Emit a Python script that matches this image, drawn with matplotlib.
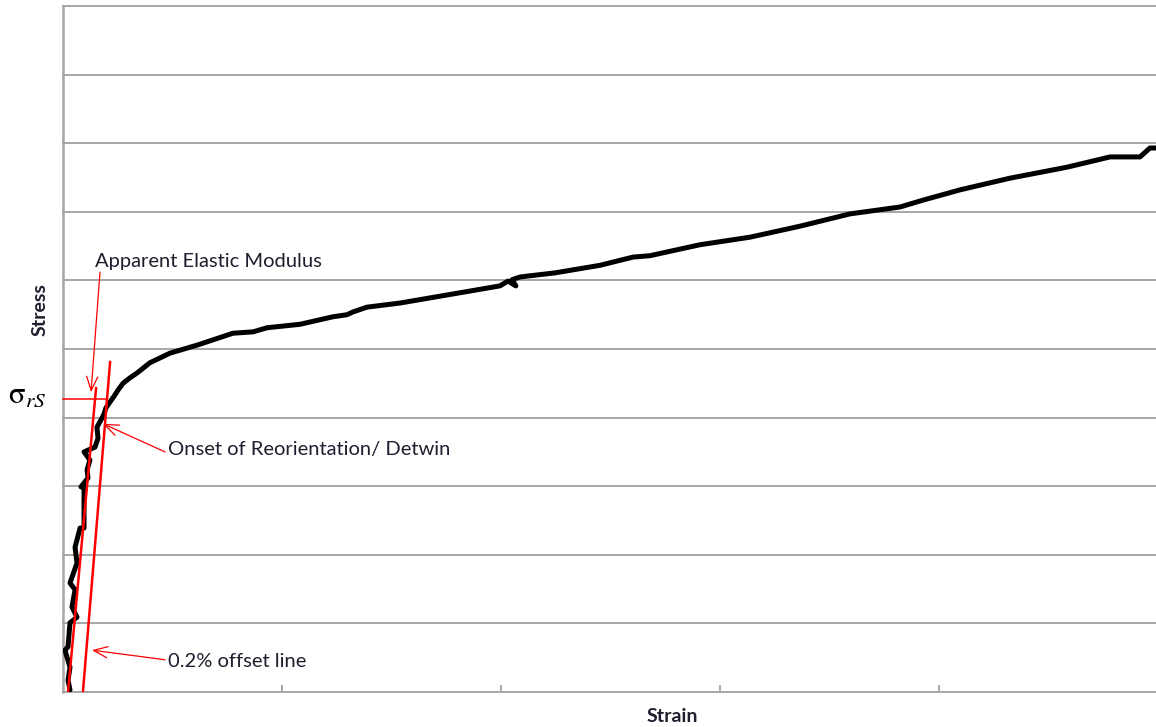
import matplotlib.pyplot as plt

plt.rcParams["font.family"] = ["Lato", "DejaVu Sans"]
plt.rcParams["mathtext.fontset"] = "stix"

# stress-strain curve (strain grid 0..5, stress grid 0..10)
strain = [0.032, 0.023, 0.032, 0.018, 0.009, 0.023, 0.032, 0.064, 0.041, 0.055,
          0.032, 0.064, 0.055, 0.078, 0.096, 0.096, 0.082, 0.114, 0.110, 0.123,
          0.096, 0.146, 0.160, 0.155, 0.174, 0.187, 0.196, 0.215, 0.233, 0.251,
          0.274, 0.306, 0.338, 0.397, 0.489, 0.616, 0.776, 0.868, 0.932, 1.082,
          1.233, 1.297, 1.324, 1.388, 1.539, 1.813, 1.995, 2.032, 2.068, 2.050,
          2.087, 2.247, 2.452, 2.603, 2.680, 2.909, 3.137, 3.365, 3.594, 3.731,
          3.822, 3.927, 4.096, 4.324, 4.584, 4.781, 4.918, 4.963, 4.991]
stress = [0.03, 0.17, 0.36, 0.51, 0.61, 0.66, 1.01, 1.09, 1.24, 1.49,
          1.59, 1.88, 2.11, 2.39, 2.39, 2.99, 2.99, 3.12, 3.24, 3.38,
          3.50, 3.57, 3.70, 3.86, 3.97, 4.05, 4.14, 4.23, 4.31, 4.40,
          4.50, 4.58, 4.65, 4.80, 4.94, 5.06, 5.23, 5.25, 5.31, 5.36,
          5.47, 5.50, 5.54, 5.61, 5.67, 5.82, 5.92, 5.99, 5.92, 6.01,
          6.05, 6.11, 6.22, 6.34, 6.36, 6.52, 6.63, 6.79, 6.97, 7.03,
          7.07, 7.17, 7.32, 7.49, 7.65, 7.80, 7.80, 7.93, 7.93]

# construction lines
modulus_x = [0.023, 0.151]
modulus_y = [0.0, 4.43]
offset_x = [0.091, 0.215]
offset_y = [0.0, 4.81]
sigma_rs = 4.27
sigma_x_end = 0.201

# annotations: label, text position, arrow tail, arrow tip
notes = [
    ("Apparent Elastic Modulus", (0.146, 6.27), (0.169, 6.12), (0.128, 4.37)),
    ("Onset of Reorientation/ Detwin", (0.479, 3.54), (0.466, 3.50), (0.183, 3.91)),
    ("0.2% offset line", (0.479, 0.45), (0.466, 0.47), (0.132, 0.61)),
]

fig = plt.figure(figsize=(11.56, 7.27), dpi=100)
ax = fig.add_axes([63 / 1156, 35 / 727, 1095 / 1156, 686 / 727])

grid_c = "#a6a6a6"
for y in range(0, 11):
    ax.axhline(y, color=grid_c, lw=1.4, zorder=1, clip_on=False)

ax.plot(strain, stress, color="black", lw=3.6, solid_joinstyle="round",
        solid_capstyle="round", zorder=3)

ax.plot(modulus_x, modulus_y, color="red", lw=1.8, zorder=4)
ax.plot(offset_x, offset_y, color="red", lw=1.8, zorder=4)
ax.plot([0, sigma_x_end], [sigma_rs, sigma_rs], color="red", lw=1.1, zorder=4,
        clip_on=False)

for label, txt, tail, tip in notes:
    ax.annotate("", xy=tip, xytext=tail,
                arrowprops=dict(arrowstyle="->,head_length=1.0,head_width=0.4",
                                color="red", lw=0.9, shrinkA=0, shrinkB=0))
    ax.text(txt[0], txt[1], label, fontsize=14.5, color="#1e1e2e",
            ha="left", va="center")

ax.set_xlim(0, 5)
ax.set_ylim(0, 10)
ax.set_xticks([1, 2, 3, 4])
ax.set_xticklabels([])
ax.set_yticks([])
ax.tick_params(axis="x", direction="in", length=5, width=1.4, color=grid_c)
for side in ["top", "right", "bottom"]:
    ax.spines[side].set_visible(False)
ax.spines["left"].set_color(grid_c)
ax.spines["left"].set_linewidth(1.8)

fig.text(8 / 1156, 1 - 395 / 727, r"$\mathrm{\sigma}_{rS}$", fontsize=22,
         ha="left", va="center")
fig.text(40 / 1156, 1 - 310 / 727, "Stress", rotation=90, fontsize=14,
         fontweight="bold", ha="center", va="center", color="#1e1e2e")
fig.text(672 / 1156, 1 - 717 / 727, "Strain", fontsize=14,
         fontweight="bold", ha="center", va="center", color="#1e1e2e")

fig.savefig("out.png", dpi=100)
